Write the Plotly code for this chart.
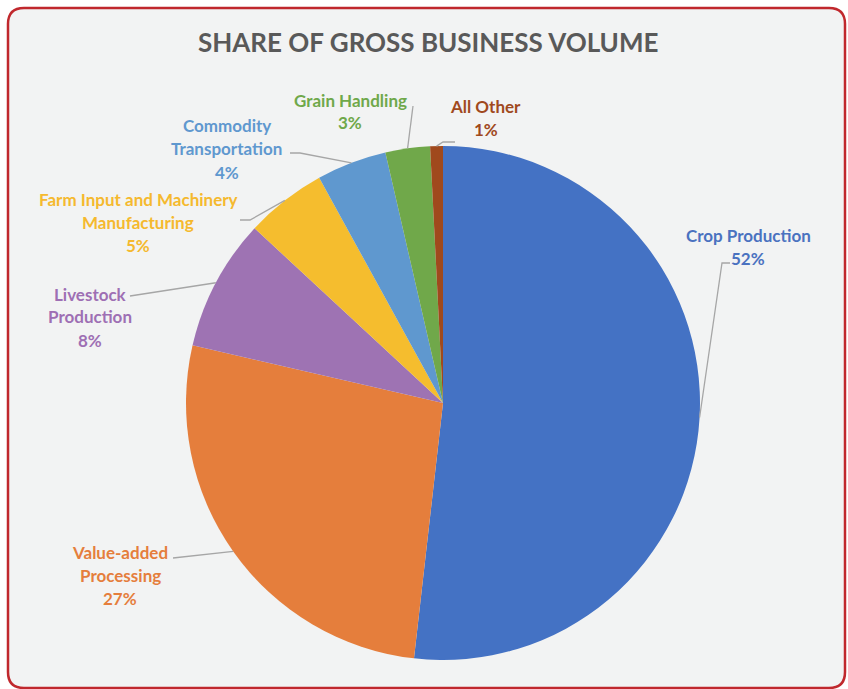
import math
import plotly.graph_objects as go

W, H = 848, 689

# ---- data ----
categories = ["Crop Production", "Value-added Processing", "Livestock Production",
              "Farm Input and Machinery Manufacturing", "Commodity Transportation",
              "Grain Handling", "All Other"]
label_lines = [["Crop Production"], ["Value-added", "Processing"], ["Livestock", "Production"],
               ["Farm Input and Machinery", "Manufacturing"], ["Commodity", "Transportation"],
               ["Grain Handling"], ["All Other"]]
shares = [51.8, 26.8, 8.3, 5.1, 4.4, 2.8, 0.8]
colors = ["#4472c4", "#e57e3c", "#9e73b3", "#f5bd2e", "#5f98cf", "#70a84a", "#a0491d"]
text_colors = ["#4a72c0", "#e57e3c", "#9e6fb4", "#f5b92e", "#5f98cf", "#6fa84a", "#a0491d"]

# ---- layout geometry (page pixels) ----
cx, cy, r = 443, 403, 257
label_pos = [(748, 235), (120, 552), (90, 294), (138, 199), (227, 126), (350, 100), (486, 106)]
leader_mid = [[(722, 263), (730, 263)], [(173, 558)], [(130, 296)], [(250, 220), (240, 220)],
              [(300, 153), (290, 153)], [(413, 106)], [(443, 142), (455, 142)]]
LINE_H = 23


def px(x):
    return x / W


def py(y):
    return 1 - y / H


fig = go.Figure(go.Pie(
    labels=categories, values=shares, marker=dict(colors=colors, line=dict(width=0)),
    sort=False, direction="clockwise", rotation=0, textinfo="none", hoverinfo="label+percent",
    domain=dict(x=[px(cx - r), px(cx + r)], y=[py(cy + r), py(cy - r)]),
    showlegend=False,
))

shapes = []
x0, y0, x1, y1, rr = 8, 8, 845, 688, 16
path = (f"M {px(x0 + rr)},{py(y0)} L {px(x1 - rr)},{py(y0)} "
        f"Q {px(x1)},{py(y0)} {px(x1)},{py(y0 + rr)} L {px(x1)},{py(y1 - rr)} "
        f"Q {px(x1)},{py(y1)} {px(x1 - rr)},{py(y1)} L {px(x0 + rr)},{py(y1)} "
        f"Q {px(x0)},{py(y1)} {px(x0)},{py(y1 - rr)} L {px(x0)},{py(y0 + rr)} "
        f"Q {px(x0)},{py(y0)} {px(x0 + rr)},{py(y0)} Z")
shapes.append(dict(type="path", path=path, xref="paper", yref="paper",
                   fillcolor="#f2f3f3", line=dict(color="#c0282d", width=2.5), layer="below"))

annotations = [dict(text="<b>SHARE OF GROSS BUSINESS VOLUME</b>", x=px(428), y=py(42),
                    xref="paper", yref="paper", showarrow=False, xanchor="center", yanchor="middle",
                    font=dict(family="Lato", size=26, color="#595959"))]

total = sum(shares)
cum = 0
for i, v in enumerate(shares):
    m = (cum + v / 2) / total
    cum += v
    th = 2 * math.pi * m
    sx, sy = cx + r * math.sin(th), cy - r * math.cos(th)
    pts = [(sx, sy)] + leader_mid[i]
    p = "M " + " L ".join(f"{px(a)},{py(b)}" for a, b in pts)
    shapes.append(dict(type="path", path=p, xref="paper", yref="paper",
                       line=dict(color="#a6a6a6", width=1.3)))
    pct = f"{round(v / total * 100)}%"
    lx, ly = label_pos[i]
    for k, t in enumerate(label_lines[i] + [pct]):
        annotations.append(dict(text=f"<b>{t}</b>", x=px(lx), y=py(ly + k * LINE_H),
                                xref="paper", yref="paper", showarrow=False,
                                xanchor="center", yanchor="middle",
                                font=dict(family="Lato", size=17, color=text_colors[i])))

fig.update_layout(width=W, height=H, margin=dict(l=0, r=0, t=0, b=0),
                  paper_bgcolor="white", plot_bgcolor="white",
                  shapes=shapes, annotations=annotations)

fig.write_html("out.html", config={"displayModeBar": False},
               post_script="document.body.style.margin='0';document.body.style.overflow='hidden';")
